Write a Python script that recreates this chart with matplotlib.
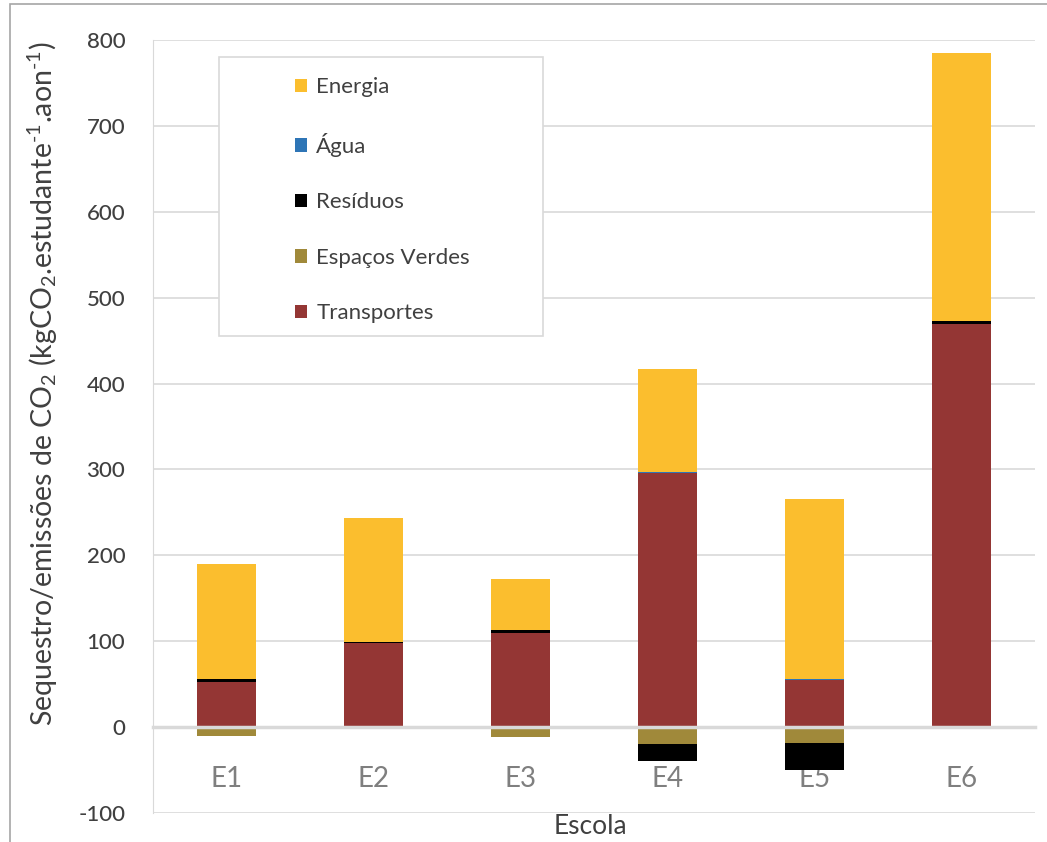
import numpy as np
import matplotlib.pyplot as plt
from matplotlib.patches import Rectangle

plt.rcParams['font.family'] = ['Lato', 'DejaVu Sans']
plt.rcParams['mathtext.fontset'] = 'custom'
plt.rcParams['mathtext.rm'] = 'Lato'
plt.rcParams['mathtext.it'] = 'Lato:italic'
plt.rcParams['axes.unicode_minus'] = False

escolas = ['E1', 'E2', 'E3', 'E4', 'E5', 'E6']
transportes = [52, 98, 110, 296, 55, 469]
espacos_verdes = [-10, 0, -12, -20, -18, 0]
residuos = [4, 1.5, 3, -20, -32, 4]
agua = [0, 0, 0, 1.5, 1.5, 0]
energia = [134, 144, 59, 120, 209, 312]

series = [
    ('Transportes', transportes, '#943634'),
    ('Espaços Verdes', espacos_verdes, '#A0893A'),
    ('Resíduos', residuos, '#000000'),
    ('Água', agua, '#2E75B6'),
    ('Energia', energia, '#FBBE2E'),
]

fig = plt.figure(figsize=(10.47, 8.42), dpi=100)
ax = fig.add_axes([153 / 1047, 1 - 813 / 842, 882 / 1047, 773 / 842])

x = np.arange(len(escolas))
pos_base = np.zeros(len(escolas))
neg_base = np.zeros(len(escolas))
handles = {}
for name, vals, col in series:
    v = np.array(vals, dtype=float)
    bottom = np.where(v >= 0, pos_base, neg_base)
    b = ax.bar(x, v, 0.4, bottom=bottom, color=col, linewidth=0, zorder=3)
    handles[name] = b
    pos_base = pos_base + np.clip(v, 0, None)
    neg_base = neg_base + np.clip(v, None, 0)

ax.set_xlim(-0.5, len(escolas) - 0.5)
ax.set_ylim(-100, 800)
ax.set_yticks(range(-100, 801, 100))
ax.grid(axis='y', color='#D9D9D9', linewidth=1.2, zorder=0)
ax.set_axisbelow(True)

for s in ['top', 'right']:
    ax.spines[s].set_visible(False)
ax.spines['left'].set_color('#D9D9D9')
ax.spines['bottom'].set_position(('data', 0))
ax.spines['bottom'].set_color('#D9D9D9')
ax.spines['bottom'].set_linewidth(2.5)
ax.spines['bottom'].set_zorder(4)

ax.set_xticks(x)
ax.set_xticklabels(escolas, fontsize=20, color='#7F7F7F')
ax.tick_params(axis='x', length=0, pad=28)
ax.tick_params(axis='y', length=0, pad=20, labelsize=16, labelcolor='#404040')
for t in ax.get_yticklabels():
    t.set_fontweight('medium')

ax.set_ylabel('Sequestro/emissões de CO$_2$ (kgCO$_2$.estudante$^{\u20101}$.aon$^{\u20101}$)',
              fontsize=20.5, color='#404040')
ax.yaxis.set_label_coords(-0.105, 0.555)
fig.text(590 / 1047, 1 - 826 / 842, 'Escola', fontsize=19, color='#404040',
         ha='center', va='center')

# legend
order = ['Energia', 'Água', 'Resíduos', 'Espaços Verdes', 'Transportes']
leg = ax.legend([handles[n] for n in order], order, loc='upper left',
                bbox_to_anchor=((284 - 153) / 882, (813 - 66) / 773),
                frameon=False, fontsize=16, labelspacing=1.6,
                handlelength=0.55, handleheight=0.55, handletextpad=0.4,
                borderpad=0, labelcolor='#404040')
leg.set_zorder(6)
ax.add_patch(Rectangle(((219 - 153) / 882, (813 - 336) / 773),
                       (543 - 219) / 882, (336 - 57) / 773,
                       transform=ax.transAxes, facecolor='white',
                       edgecolor='#D9D9D9', linewidth=1.2, zorder=5))

# outer chart frame
fig.patches.append(Rectangle((10 / 1047, -0.05), 1.1, 1 - 4 / 842 + 0.05,
                             transform=fig.transFigure, fill=False,
                             edgecolor='#A6A6A6', linewidth=1.2))

fig.savefig('out.png', dpi=100)
